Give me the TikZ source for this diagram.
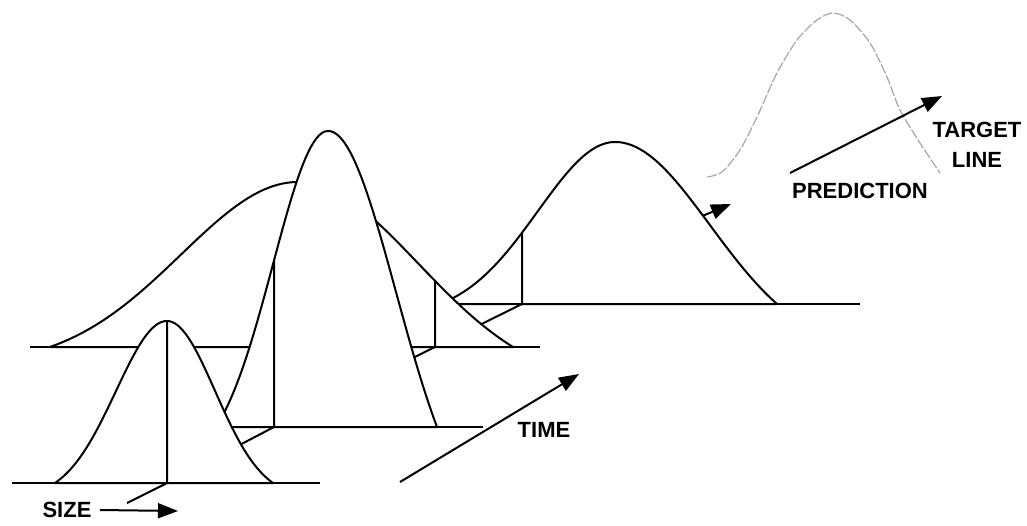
\documentclass[tikz,border=0pt]{standalone}
\usepackage{fontspec}
\setmainfont{Liberation Sans}
\usetikzlibrary{arrows.meta}

% campana truncada: bell(desplacament, semiamplada, sigma)
\pgfmathdeclarefunction{bell}{3}{%
  \pgfmathparse{(exp(-0.5*(#1/#3)*(#1/#3)) - exp(-0.5*(#2/#3)*(#2/#3)))
    / (1 - exp(-0.5*(#2/#3)*(#2/#3)))}%
}

\begin{document}
\begin{tikzpicture}[x=0.5pt, y=-0.5pt, >={Triangle[length=10pt,width=7.5pt]},
    line width=1pt, line join=round,
    lbl/.style={font=\fontsize{11}{15}\selectfont\bfseries, inner sep=0pt, align=center}]

\useasboundingbox (0,0) rectangle (1027,525);

% Peus i cims
\coordinate (f1) at (167,483); \coordinate (t1) at (167,321);
\coordinate (f2) at (274,427); \coordinate (t2) at (274,{427-296*bell(-54,112,55)});
\coordinate (f3) at (435,347); \coordinate (t3) at (435,{347-165*bell(137,215,120)});
\coordinate (f4) at (522,304); \coordinate (t4) at (522,{304-162*bell(-93,175,77)});
\coordinate (f0) at (127,503);

% Corba 4 (darrere)
\draw (440,304) -- (860,304);
\filldraw[fill=white]
    plot[domain=-175:0, samples=40] ({615+\x},{304-162*bell(\x,175,77)})
 -- plot[domain=0:162, samples=40] ({615+\x},{304-162*bell(\x,162,95)}) -- cycle;
\draw (t4) -- (f4) -- (f3);

% Corba 3 (ampla)
\draw (30,347) -- (540,347);
\filldraw[fill=white]
    plot[domain=-248:0, samples=50] ({298+\x},{347-165*bell(\x,248,117)})
 -- plot[domain=0:215, samples=50] ({298+\x},{347-165*bell(\x,215,120)}) -- cycle;
\draw (t3) -- (f3) -- (f2);

% Corba 2 (estreta)
\draw (216,427) -- (483,427);
\filldraw[fill=white]
    plot[domain=-112:0, samples=40] ({328+\x},{427-296*bell(\x,112,55)})
 -- plot[domain=0:109, samples=40] ({328+\x},{427-296*bell(\x,109,68)}) -- cycle;
\draw (t2) -- (f2) -- (f1);

% Corba 1 (davant)
\draw (12,483) -- (320,483);
\filldraw[fill=white]
    plot[domain=-112:0, samples=40] ({167+\x},{483-162*bell(\x,112,51)})
 -- plot[domain=0:106, samples=40] ({167+\x},{483-162*bell(\x,106,48)}) -- cycle;
\draw (t1) -- (f1) -- (f0);

% Prediccio
\draw[gray!70, line width=0.6pt, dash pattern=on 5pt off 1pt]
    plot[smooth] coordinates {(707,177) (722,172) (740,150) (757,117) (777,73)
    (797,40) (817,20) (833,13) (850,20) (870,43) (887,77) (900,110) (920,143)
    (940,173)};

% Fletxes
\coordinate (sa) at (703,{304-162*bell(88,162,95)}); \coordinate (sb) at (731,204);
\coordinate (time-a) at (400,482); \coordinate (time-b) at (579,374);
\coordinate (size-a) at (100,510); \coordinate (size-b) at (178,511);
\coordinate (pred-a) at (790,173); \coordinate (pred-b) at (942,96);
\draw[->] (sa) -- (sb);
\draw[->] (time-a) -- (time-b);
\draw[->] (size-a) -- (size-b);
\draw[->] (pred-a) -- (pred-b);

% Etiquetes
\node[lbl] (size) at (67,510) {SIZE};
\node[lbl] (time) at (544,430) {TIME};
\node[lbl] (pred) at (860,191) {PREDICTION};
\node[lbl] (target) at (977,145) {TARGET\\LINE};

\end{tikzpicture}
\end{document}
